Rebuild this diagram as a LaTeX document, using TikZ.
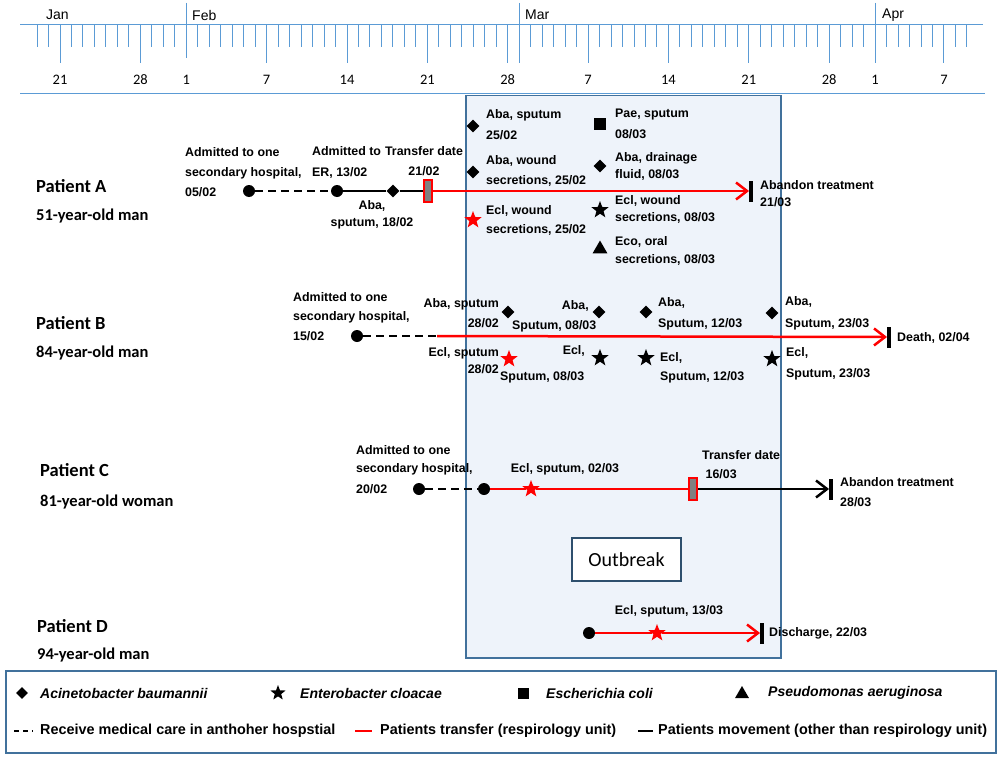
\documentclass[tikz,border=0pt]{standalone}
\usepackage{fontspec}
\setmainfont{Liberation Sans}
\newfontfamily\calfont{Carlito}
\usetikzlibrary{arrows.meta, shapes.geometric}
\definecolor{axisblue}{RGB}{91,155,213}
\definecolor{boxblue}{RGB}{65,113,156}
\definecolor{boxfill}{RGB}{238,243,250}
\newcommand\lblfont{\fontsize{12.4}{20}\selectfont\bfseries}
\newcommand\keyfont{\fontsize{14.4}{16}\selectfont\bfseries}
\tikzset{
  tickline/.style={draw=axisblue, line width=1pt},
  txt/.style={font=\lblfont, inner sep=0pt, align=left},
  keytxt/.style={font=\keyfont, inner sep=0pt, anchor=west},
  dotmark/.style={circle, fill=black, inner sep=0pt, minimum size=12pt},
  diamark/.style={diamond, fill=black, inner sep=0pt, minimum size=13pt},
  starmark/.style={star, star points=5, star point ratio=2.4, fill=black, inner sep=0pt, minimum size=18pt},
  redstar/.style={starmark, fill=red},
  sqmark/.style={rectangle, fill=black, inner sep=0pt, minimum size=12pt},
  trimark/.style={regular polygon, regular polygon sides=3, fill=black, inner sep=0pt, minimum size=17pt},
  xferbox/.style={rectangle, draw=red, fill=gray, line width=1.8pt, inner sep=0pt, minimum width=8pt, minimum height=22pt},
  endbar/.style={rectangle, fill=black, inner sep=0pt, minimum width=3.5pt, minimum height=21pt},
  careline/.style={line width=2.5pt, dash pattern=on 8pt off 5pt},
  moveline/.style={line width=2.5pt},
  xferline/.style={line width=2.5pt, red},
  endtip/.style={-{Straight Barb[length=11pt, width=17pt]}},
  patient/.style={font=\calfont\bfseries\fontsize{18.5}{20}\selectfont, inner sep=0pt, anchor=west},
  age/.style={font=\calfont\bfseries\fontsize{16.5}{20}\selectfont, inner sep=0pt, anchor=west},
}

\begin{document}
\begin{tikzpicture}[x=1pt, y=-1pt]
\useasboundingbox (0,0) rectangle (1000,757);

% time axis
\draw[tickline] (20,25) -- (983,25);
\draw[tickline] (20,94) -- (985,94);
\foreach \k in {-2,...,79}
  \draw[tickline] ({60+11.48*\k},25) -- ++(0,22);
\foreach \k/\d in {0/21,7/28,18/7,25/14,32/21,39/28,46/7,53/14,60/21,67/28,77/7}{
  \draw[tickline] ({60+11.48*\k},25) -- ++(0,38);
  \node[font=\calfont\fontsize{14.5}{16}\selectfont] (d\k) at ({60+11.48*\k},80) {\d};
}
\draw[tickline] ({60+11.48*11},3) -- ++(0,55);
\draw[tickline] ({60+11.48*40},3) -- ++(0,60);
\draw[tickline] ({60+11.48*71},3) -- ++(0,60);
\node[font=\calfont\fontsize{14.5}{16}\selectfont] (d11) at ({60+11.48*11},80) {1};
\node[font=\calfont\fontsize{14.5}{16}\selectfont] (d71) at ({60+11.48*71},80) {1};
\node[keytxt, font=\fontsize{14}{16}\selectfont] (jan) at (46,15) {Jan};
\node[keytxt, font=\fontsize{14}{16}\selectfont] (feb) at (192,15) {Feb};
\node[keytxt, font=\fontsize{14}{16}\selectfont] (mar) at (525,15) {Mar};
\node[keytxt, font=\fontsize{14}{16}\selectfont] (apr) at (882,15) {Apr};

% outbreak period
\node[draw=boxblue, fill=boxfill, line width=1.5pt, inner sep=0pt, anchor=north west,
      minimum width=315pt, minimum height=562pt] (zone) at (465,95) {};
\node[draw=boxblue!70!black, fill=white, line width=1.3pt, font=\calfont\fontsize{20}{22}\selectfont,
      minimum width=109pt, minimum height=43pt] (outbreak) at (626.5,559.5) {Outbreak};

% patients
\node[patient] (pa) at (36,186) {Patient A};
\node[age] (pa2) at (36,216) {51-year-old man};
\node[patient] (pb) at (36,323) {Patient B};
\node[age] (pb2) at (36,353) {84-year-old man};
\node[patient] (pc) at (40,470) {Patient C};
\node[age] (pc2) at (40,502) {81-year-old woman};
\node[patient] (pd) at (37,626) {Patient D};
\node[age] (pd2) at (37,655) {94-year-old man};

% Patient A
\node[dotmark] (a0) at (249,191) {};
\node[dotmark] (a1) at (337,191) {};
\node[diamark] (a2) at (393,191) {};
\node[xferbox] (a3) at (428,191) {};
\node[endbar] (aend) at (751,191) {};
\draw[careline] (a0) -- (a1);
\draw[moveline] (a1) -- (a2) -- (a3);
\draw[xferline, endtip] (a3) -- (aend.west);
\node[txt, anchor=north west] (aadm) at (185,147) {Admitted to one\\secondary hospital,\\05/02};
\node[txt, anchor=north west] (aer) at (312,146) {Admitted to\\[1pt]ER, 13/02};
\node[txt, anchor=north, align=center] (axfer) at (424,146) {Transfer date\\21/02};
\node[txt, anchor=north, align=center, font=\fontsize{12.4}{17}\selectfont\bfseries] (aaba) at (372,200) {Aba,\\sputum, 18/02};
\node[diamark] (m1) at (473,126) {};
\node[diamark] (m2) at (473,172) {};
\node[redstar] (m3) at (473,220) {};
\node[sqmark] (m4) at (600,124) {};
\node[diamark] (m5) at (600,166) {};
\node[starmark] (m6) at (600,210) {};
\node[trimark] (m7) at (600,249) {};
\node[txt, anchor=north west] (aaba1) at (486,109) {Aba, sputum\\[1pt]25/02};
\node[txt, anchor=north west] (aaba2) at (486,155) {Aba, wound\\secretions, 25/02};
\node[txt, anchor=north west] (aecl1) at (486,205) {Ecl, wound\\[-1pt]secretions, 25/02};
\node[txt, anchor=north west] (apae) at (615,109) {Pae, sputum\\[1pt]08/03};
\node[txt, anchor=north west] (aaba3) at (615,152) {Aba, drainage\\[-3pt]fluid, 08/03};
\node[txt, anchor=north west] (aecl2) at (615,195) {Ecl, wound\\[-3pt]secretions, 08/03};
\node[txt, anchor=north west] (aeco) at (615,236) {Eco, oral\\[-2pt]secretions, 08/03};
\node[txt, anchor=north west] (astop) at (760,180) {Abandon treatment\\[-3pt]21/03};

% Patient B
\node[dotmark] (b0) at (357,336) {};
\coordinate (b1) at (437,336);
\node[endbar] (bend) at (889,337) {};
\draw[careline] (b0) -- (b1);
\draw[xferline, endtip] (b1) -- (bend.west);
\node[txt, anchor=north west] (badm) at (293,292) {Admitted to one\\[-1pt]secondary hospital,\\15/02};
\node[diamark] (n1) at (508,312) {};
\node[diamark] (n2) at (599,312) {};
\node[diamark] (n3) at (646,312) {};
\node[diamark] (n4) at (772,313) {};
\node[redstar] (n5) at (509,359) {};
\node[starmark] (n6) at (600,358) {};
\node[starmark] (n7) at (646,358) {};
\node[starmark] (n8) at (772,359) {};
\node[txt, anchor=north east, align=right] (baba1) at (499,298) {Aba, sputum\\28/02};
\node[txt, anchor=east] (baba2) at (589,306) {Aba,};
\node[txt, anchor=west] (bsp2) at (512,326) {Sputum, 08/03};
\node[txt, anchor=north west] (baba3) at (658,297) {Aba,\\[1pt]Sputum, 12/03};
\node[txt, anchor=north west] (baba4) at (785,296) {Aba,\\[2pt]Sputum, 23/03};
\node[txt, anchor=north east, align=right, font=\fontsize{12.4}{17}\selectfont\bfseries] (becl1) at (499,347) {Ecl, sputum\\28/02};
\node[txt, anchor=west] (bsp1) at (500,377) {Sputum, 08/03};
\node[txt, anchor=east] (becl2) at (585,351) {Ecl,};
\node[txt, anchor=north west] (becl3) at (660,352) {Ecl,\\[-1pt]Sputum, 12/03};
\node[txt, anchor=north west] (becl4) at (786,347) {Ecl,\\[1pt]Sputum, 23/03};
\node[txt, anchor=west] (bdeath) at (897,338) {Death, 02/04};

% Patient C
\node[dotmark] (c0) at (419,489) {};
\node[dotmark] (c1) at (484,489) {};
\node[redstar] (c2) at (531,489) {};
\node[xferbox] (c3) at (693,489) {};
\node[endbar] (cend) at (831,489) {};
\draw[careline] (c0) -- (c1);
\draw[xferline] (c1) -- (c2) -- (c3);
\draw[moveline, endtip] (c3) -- (cend.west);
\node[txt, anchor=north west] (cadm) at (356,445) {Admitted to one\\[-2pt]secondary hospital,\\[1pt]20/02};
\node[txt] (cecl) at (565,469) {Ecl, sputum, 02/03};
\node[txt, anchor=north west] (cxfer) at (702,450) {Transfer date\\[-1pt]\ 16/03};
\node[txt, anchor=north west] (cstop) at (840,477) {Abandon treatment\\28/03};

% Patient D
\node[dotmark] (d0) at (589,633) {};
\node[redstar] (d1) at (657,633) {};
\node[endbar] (dend) at (762,633) {};
\draw[xferline] (d0) -- (d1);
\draw[xferline, endtip] (d1) -- (dend.west);
\node[txt] (decl) at (669,611) {Ecl, sputum, 13/03};
\node[txt, anchor=west] (ddis) at (769,633) {Discharge, 22/03};

% legend
\node[draw=boxblue, line width=1.5pt, inner sep=0pt, anchor=north west,
      minimum width=990pt, minimum height=82pt] (legend) at (5,670) {};
\node[diamark, minimum size=12pt] (k1) at (22,693) {};
\node[keytxt, font=\fontsize{14}{16}\selectfont\bfseries] (k1t) at (40,693) {\itshape Acinetobacter baumannii};
\node[starmark, minimum size=16pt] (k2) at (278,693) {};
\node[keytxt, font=\fontsize{14}{16}\selectfont\bfseries] (k2t) at (300,693) {\itshape Enterobacter cloacae};
\node[sqmark, minimum size=11pt] (k3) at (523,693) {};
\node[keytxt, font=\fontsize{14}{16}\selectfont\bfseries] (k3t) at (546,693) {\itshape Escherichia coli};
\node[trimark, minimum size=16pt] (k4) at (742,694) {};
\node[keytxt, font=\fontsize{14}{16}\selectfont\bfseries] (k4t) at (768,693) {\itshape Pseudomonas aeruginosa};
\coordinate (k5a) at (14,731);
\coordinate (k5b) at (33,731);
\draw[careline, dash pattern=on 5pt off 4pt] (k5a) -- (k5b);
\node[keytxt] (k5t) at (40,731) {Receive medical care in anthoher hospstial};
\coordinate (k6a) at (355,731);
\coordinate (k6b) at (372,731);
\draw[xferline] (k6a) -- (k6b);
\node[keytxt] (k6t) at (380,731) {Patients transfer (respirology unit)};
\coordinate (k7a) at (638,731);
\coordinate (k7b) at (653,731);
\draw[moveline] (k7a) -- (k7b);
\node[keytxt] (k7t) at (658,731) {Patients movement (other than respirology unit)};
\end{tikzpicture}
\end{document}
